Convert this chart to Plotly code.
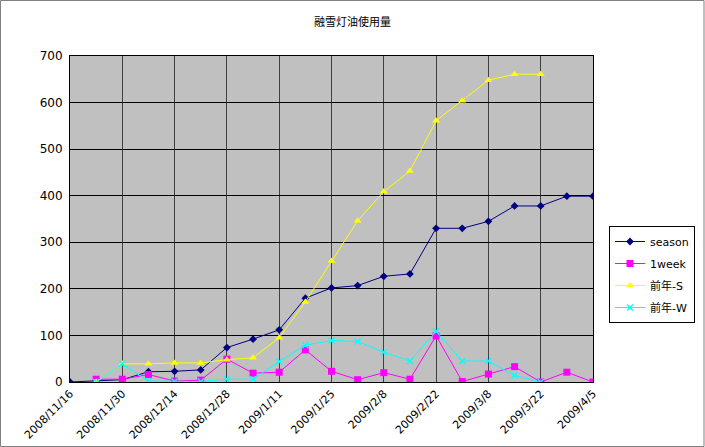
import plotly.graph_objects as go

dates = ["2008-11-16", "2008-11-23", "2008-11-30", "2008-12-07", "2008-12-14", "2008-12-21",
         "2008-12-28", "2009-01-04", "2009-01-11", "2009-01-18", "2009-01-25", "2009-02-01",
         "2009-02-08", "2009-02-15", "2009-02-22", "2009-03-01", "2009-03-08", "2009-03-15",
         "2009-03-22", "2009-03-29", "2009-04-05"]

season = [0, 3, 5, 22, 23, 26, 74, 92, 112, 180, 202, 207, 227, 232, 330, 330, 345, 378, 378, 399, 399]
week1 = [None, 6, 6, 16, 2, 4, 49, 19, 21, 69, 23, 5, 20, 6, 99, 1, 17, 33, 0, 21, 0]
prev_s = [None, 0, 39, 39, 41, 41, 48, 52, 95, 172, 260, 346, 409, 453, 561, 604, 648, 661, 661, None, None]
prev_w = [None, 0, 39, 2, 1, 1, 6, 6, 44, 79, 89, 87, 64, 45, 109, 45, 45, 14, 0, None, None]

tick_vals = ["2008-11-16", "2008-11-30", "2008-12-14", "2008-12-28", "2009-01-11", "2009-01-25",
             "2009-02-08", "2009-02-22", "2009-03-08", "2009-03-22", "2009-04-05"]
tick_text = ["2008/11/16", "2008/11/30", "2008/12/14", "2008/12/28", "2009/1/11", "2009/1/25",
             "2009/2/8", "2009/2/22", "2009/3/8", "2009/3/22", "2009/4/5"]

FONT = "DejaVu Sans, Noto Sans CJK JP"

fig = go.Figure()
fig.add_trace(go.Scatter(x=dates, y=season, name="season", mode="lines+markers", legendgroup="a",
                         line=dict(color="#000080", width=1),
                         marker=dict(symbol="diamond", size=6, color="#000080")))
fig.add_trace(go.Scatter(x=dates, y=week1, name="1week", mode="lines+markers", legendgroup="b",
                         line=dict(color="#FF00FF", width=1),
                         marker=dict(symbol="square", size=7, color="#FF00FF")))
fig.add_trace(go.Scatter(x=dates, y=prev_s, name="前年-S", mode="lines+markers", legendgroup="c",
                         line=dict(color="#FFFF00", width=1),
                         marker=dict(symbol="triangle-up", size=7, color="#FFFF00")))
fig.add_trace(go.Scatter(x=dates, y=prev_w, name="前年-W", mode="lines+markers", legendgroup="d",
                         line=dict(color="#00FFFF", width=1),
                         marker=dict(symbol="x-thin", size=6, color="#00FFFF",
                                     line=dict(color="#00FFFF", width=1.5))))

W, H = 705, 447
L, R, T, B = 70, 112, 56, 65
pw, ph = W - L - R, H - T - B

fig.update_layout(
    width=W, height=H,
    margin=dict(l=L, r=R, t=T, b=B, autoexpand=False),
    paper_bgcolor="white",
    plot_bgcolor="#C0C0C0",
    font=dict(family=FONT, size=11, color="black"),
    title=dict(text="融雪灯油使用量", x=0.5, xanchor="center", y=1 - 22 / H, yanchor="middle",
               font=dict(family="Noto Sans CJK JP", size=11, color="black")),
    xaxis=dict(type="date", range=["2008-11-16", "2009-04-05"],
               tickvals=tick_vals, ticktext=tick_text, tickangle=-45,
               showgrid=True, gridcolor="#404040", gridwidth=1,
               showline=True, linecolor="black", linewidth=1, mirror=True,
               ticks="", zeroline=False, tickfont=dict(size=11), automargin=False),
    yaxis=dict(range=[0, 700], dtick=100, showgrid=True, gridcolor="black", gridwidth=1,
               showline=True, linecolor="black", linewidth=1, mirror=True,
               ticks="", zeroline=False, tickfont=dict(size=12), automargin=False,
               ticklabelstandoff=4),
    legend=dict(x=(609 - L) / pw, y=(H - 226 - B) / ph, xanchor="left", yanchor="top",
                bgcolor="white", bordercolor="black", borderwidth=1,
                font=dict(family=FONT, size=11), tracegroupgap=3, itemwidth=30),
    showlegend=True,
)

fig.add_shape(type="rect", xref="paper", yref="paper",
              x0=(0.5 - L) / pw, x1=(W - 1 - L) / pw,
              y0=-(B - 0.5) / ph, y1=(H - B - 0.5) / ph,
              line=dict(color="#808080", width=1), fillcolor="rgba(0,0,0,0)", layer="above")

fig.write_html("out.html", config={"displayModeBar": False},
               post_script="document.body.style.margin='0';document.body.style.overflow='hidden';")
